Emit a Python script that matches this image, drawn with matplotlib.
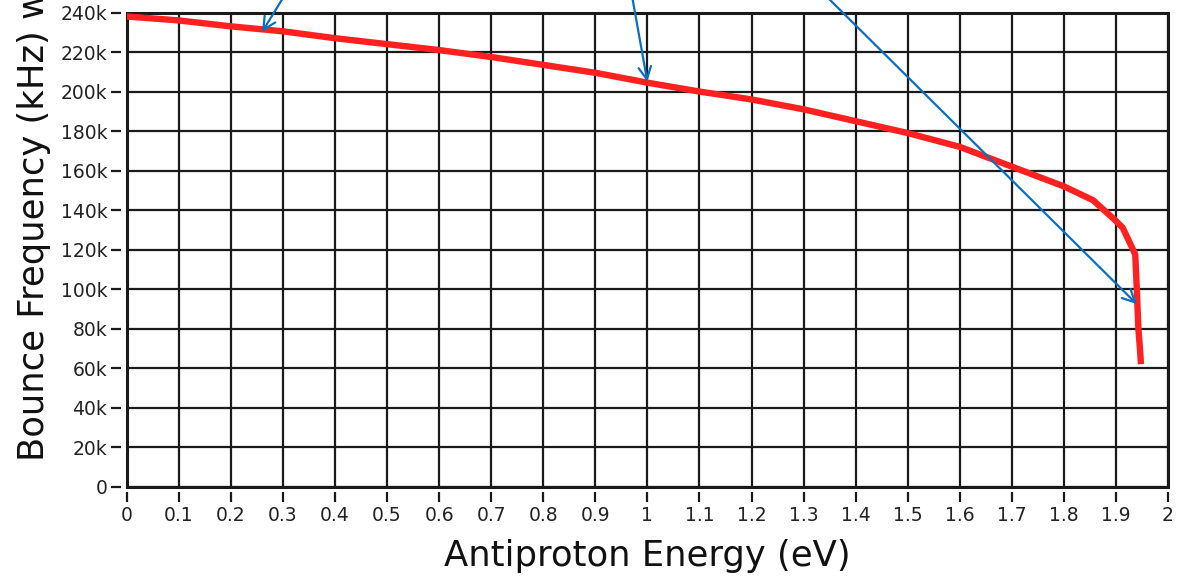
import matplotlib
matplotlib.use("Agg")
import matplotlib.pyplot as plt
from matplotlib.ticker import FuncFormatter, MultipleLocator

# bounce frequency vs antiproton energy (kHz)
energy = [0, 0.1, 0.2, 0.3, 0.4, 0.5, 0.6, 0.7, 0.8, 0.9, 1.0, 1.1, 1.2, 1.3,
          1.4, 1.5, 1.6, 1.7, 1.8, 1.856, 1.898, 1.913, 1.930, 1.937, 1.940,
          1.943, 1.946, 1.948]
freq_k = [238, 236, 233, 230.5, 227, 224, 221, 217.5, 213.5, 209.5, 204.5,
          200, 196, 191, 185, 179, 172, 162, 152, 145, 135, 131, 121.5, 117.5,
          100, 80, 70, 62]

# arrows pointing at the curve: (tail x, tail kHz) -> (head x, head kHz)
arrow_tails = [(0.318, 255), (0.966, 255), (1.312, 256.5)]
arrow_heads = [(0.26, 230.2), (1.0, 204.9), (1.94, 92.4)]

fig = plt.figure(figsize=(11.82, 5.8), dpi=100)
ax = fig.add_axes([0.1072, 0.1609, 0.8810, 0.8175])

freq = [f * 1000 for f in freq_k]
ax.plot(energy, freq, color="#ff2020", lw=4.6, solid_capstyle="butt", zorder=3)

ax.set_xlim(0, 2)
ax.set_ylim(0, 240000)
ax.xaxis.set_major_locator(MultipleLocator(0.1))
ax.yaxis.set_major_locator(MultipleLocator(20000))
ax.xaxis.set_major_formatter(FuncFormatter(lambda v, p: f"{v:g}"))
ax.yaxis.set_major_formatter(
    FuncFormatter(lambda v, p: "0" if v == 0 else f"{int(round(v / 1000))}k"))

ax.grid(True, color="#1a1a1a", lw=1.6)
ax.set_axisbelow(True)

# frame drawn by the axes patch; ticks pushed away from it
for s in ax.spines.values():
    s.set_visible(False)
ax.spines["left"].set_position(("outward", 4))
ax.spines["bottom"].set_position(("outward", 4))
ax.patch.set_edgecolor("#1a1a1a")
ax.patch.set_linewidth(2.2)
ax.tick_params(direction="out", length=7, width=1.6, color="#1a1a1a",
               labelsize=13.5, labelcolor="#222222", pad=3)

ax.set_xlabel("Antiproton Energy (eV)", fontsize=25.5, labelpad=10, color="#111111")
fig.text(0.029, 0.205, "Bounce Frequency (kHz) with", rotation=90,
         ha="center", va="bottom", fontsize=25.5, color="#111111")

for tail, head in zip(arrow_tails, arrow_heads):
    ax.annotate("", xy=(head[0], head[1] * 1000),
                xytext=(tail[0], tail[1] * 1000),
                annotation_clip=False,
                arrowprops=dict(arrowstyle="->,head_length=0.9,head_width=0.45",
                                color="#0a6fc2", lw=1.6, shrinkA=0, shrinkB=0))

fig.savefig("out.png", dpi=100)
